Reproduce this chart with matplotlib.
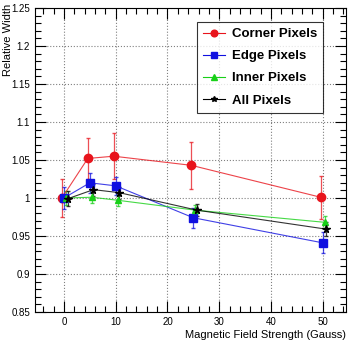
import matplotlib
matplotlib.use('Agg')
from matplotlib import pyplot as plt
from matplotlib.ticker import MultipleLocator
import numpy as np

plt.rcParams['font.family'] = ['Liberation Sans', 'DejaVu Sans']

#################
# Data from plot #
#################

field = [0, 5, 10, 25, 50]

corner = [1.000, 1.052, 1.055, 1.043, 1.001]
corner_err = [0.025, 0.027, 0.030, 0.031, 0.028]

edge = [1.000, 1.020, 1.016, 0.974, 0.941]
edge_err = [0.014, 0.013, 0.012, 0.013, 0.014]

inner = [1.000, 1.001, 0.997, 0.984, 0.968]
inner_err = [0.009, 0.007, 0.007, 0.007, 0.008]

allpix = [0.999, 1.011, 1.007, 0.984, 0.959]
allpix_err = [0.010, 0.008, 0.008, 0.008, 0.009]

#########################
# Create plotting stuff #
#########################

fig = plt.figure(figsize=(3.53, 3.43), dpi=100)
ax = fig.add_axes([35/353, 1 - 312/343, 311/353, 304/343])

series = [
    ('Corner Pixels', corner, corner_err, -0.4, '#e8141c', 'o', 6),
    ('Edge Pixels', edge, edge_err, 0.0, '#1010e0', 's', 5.5),
    ('Inner Pixels', inner, inner_err, 0.4, '#18d018', '^', 5),
    ('All Pixels', allpix, allpix_err, 0.7, 'black', '*', 5.5),
]

for name, vals, errs, dx, col, mk, ms in series:
    xs = np.array(field) + dx
    ax.errorbar(xs, vals, yerr=errs, fmt='none', ecolor=col, elinewidth=0.9,
                capsize=1.5, alpha=0.75, zorder=2)
    ax.plot(xs, vals, '-', color=col, lw=0.8, alpha=0.8, zorder=3)
    ax.plot(xs, vals, mk, color=col, ms=ms, mec=col, zorder=4)

# legend handles with line + marker
handles = []
for name, vals, errs, dx, col, mk, ms in series:
    h, = ax.plot([], [], '-', color=col, lw=0.8, marker=mk, ms=ms * 0.8)
    handles.append(h)
leg = ax.legend(handles, [s[0] for s in series], loc='upper left',
                bbox_to_anchor=((197 - 35) / 311, (312 - 22) / 304),
                borderaxespad=0,
                prop={'weight': 'bold', 'size': 9.5}, frameon=True,
                fancybox=False, handlelength=1.7, borderpad=0.45,
                labelspacing=0.75, handletextpad=0.5)
leg.get_frame().set_edgecolor('black')
leg.get_frame().set_linewidth(0.8)

ax.set_xlim(-5.6, 54.5)
ax.set_ylim(0.85, 1.25)
ax.xaxis.set_major_locator(MultipleLocator(10))
ax.xaxis.set_minor_locator(MultipleLocator(2))
ax.yaxis.set_minor_locator(MultipleLocator(0.01))
ax.set_yticks(np.arange(0.85, 1.2501, 0.05))
ax.set_yticklabels(['0.85', '0.9', '0.95', '1', '1.05', '1.1', '1.15', '1.2', '1.25'])

ax.tick_params(which='both', direction='in', top=True, right=True, labelsize=7, width=0.8)
ax.tick_params(which='major', length=8)
ax.tick_params(which='minor', length=4)
ax.grid(True, which='major', ls=':', color='gray', lw=0.8)
ax.set_axisbelow(True)

ax.set_xlabel('Magnetic Field Strength (Gauss)', fontsize=8, ha='right', x=1.0, labelpad=2)
ax.set_ylabel('Relative Width', fontsize=8, ha='right', y=1.0)
ax.yaxis.set_label_coords(-22 / 311, 1.015)

fig.savefig('out.png', dpi=100)
